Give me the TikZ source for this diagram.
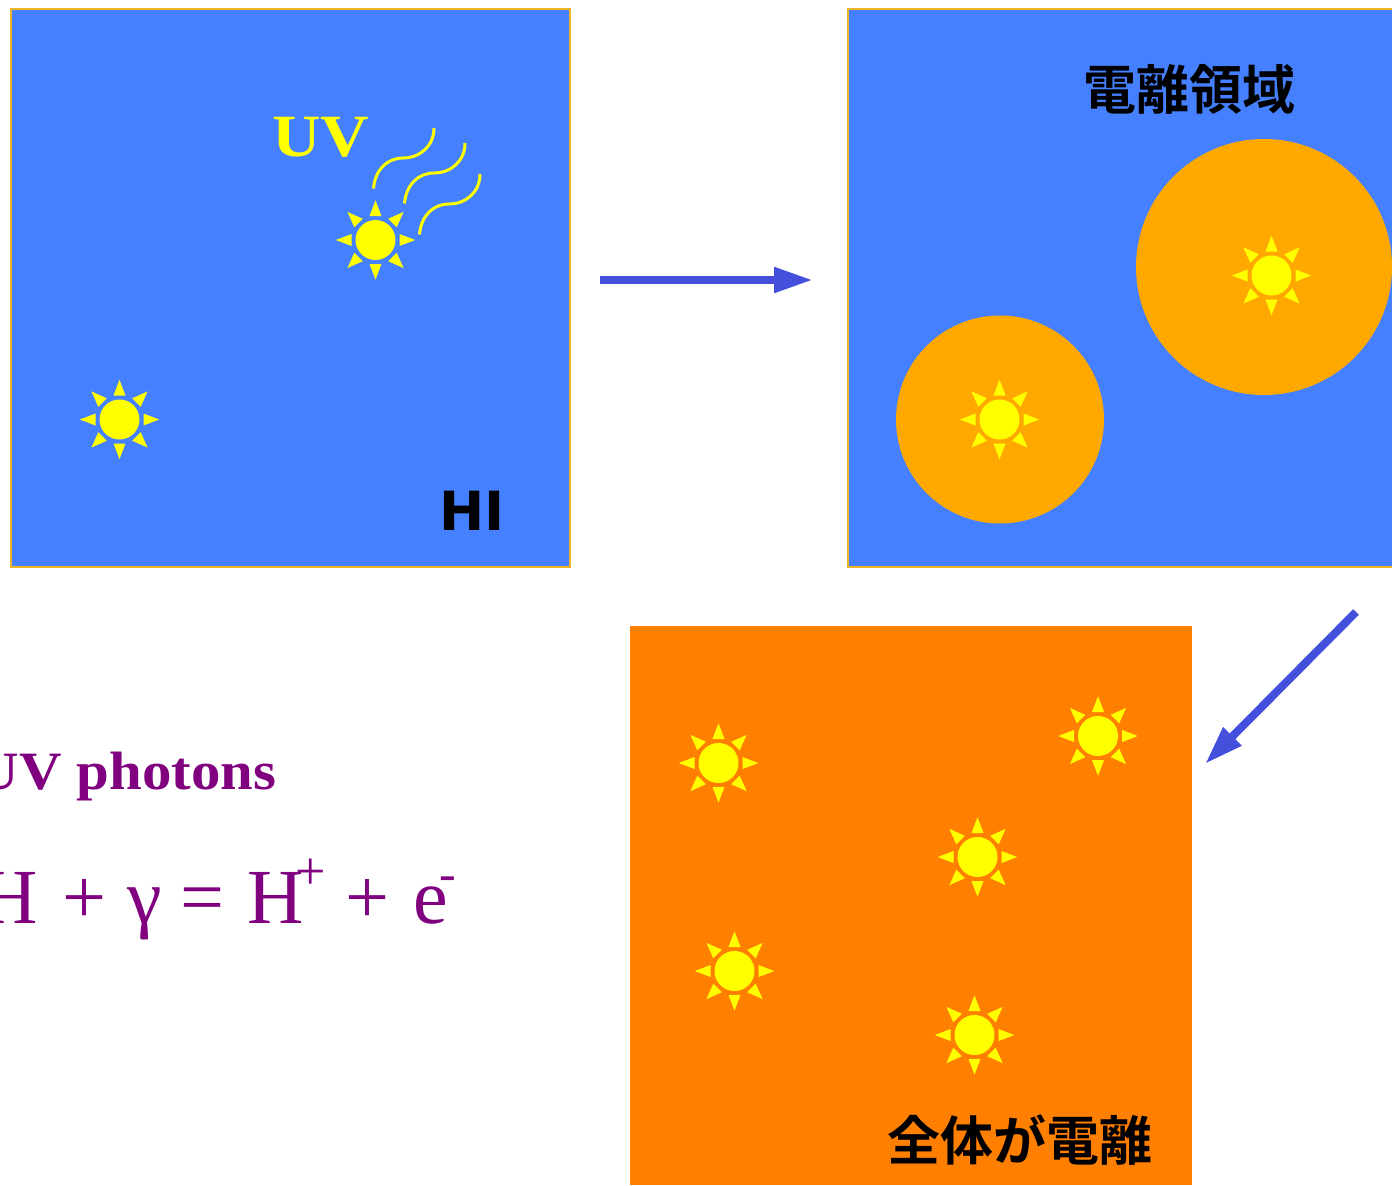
\documentclass[tikz,border=0pt]{standalone}
\usepackage{fontspec}
\setmainfont{Liberation Serif}
\newfontfamily\jpfont{Noto Sans CJK JP}[BoldFont={Noto Sans CJK JP Bold}]
\newfontfamily\hifont{DejaVu Sans}
\usetikzlibrary{arrows.meta}
\definecolor{skyb}{HTML}{4480FF}
\definecolor{edgeo}{HTML}{F0B428}
\definecolor{ionor}{HTML}{FFA800}
\definecolor{fullor}{HTML}{FF7F00}
\definecolor{sunyl}{HTML}{FFFF00}
\definecolor{arrowb}{HTML}{4450DC}
\definecolor{purp}{HTML}{800080}
\tikzset{
  x=1bp,y=-1bp,
  panel/.style={draw=edgeo,line width=2bp,fill=skyb},
  bigarrow/.style={draw=arrowb,line width=8bp,-{Triangle[length=39bp,width=24bp,fill=arrowb]}},
  wave/.style={draw=sunyl,line width=3bp,line cap=butt},
  lab/.style={inner sep=0pt,outer sep=0pt},
  pics/sunicon/.style={code={
    \fill[sunyl] (0,0) circle[radius=20];
    \foreach \a in {0,45,...,315}{
      \fill[#1,rotate=\a] (24,-6) -- (39.7,0) -- (24,6) -- cycle;
    }
  }},
  pics/sunicon/.default=sunyl
}
\newcommand{\fsz}[1]{\fontsize{#1bp}{#1bp}\selectfont}
\begin{document}
\begin{tikzpicture}
\useasboundingbox (0,0) rectangle (1392,1185);
\clip (0,0) rectangle (1392,1185);
\fill[white] (0,0) rectangle (1392,1185);
% panels
\draw[panel] (10.5,8.5) rectangle (570,566.5);
\draw[panel] (848,8.5) rectangle (1400,567);
\fill[fullor] (630,626) rectangle (1192,1185);
% ionised regions
\fill[ionor] (1264,267) circle[radius=128];
\fill[ionor] (1000,419.5) circle[radius=104];
% suns
\pic at (375.5,240) {sunicon};
\pic at (119.5,419.5) {sunicon};
\pic at (1271.5,275.5) {sunicon={sunyl}};
\pic at (999.5,419.5) {sunicon={sunyl}};
\pic at (718.5,763) {sunicon};
\pic at (1098,736) {sunicon};
\pic at (977.5,857) {sunicon};
\pic at (734.5,971) {sunicon};
\pic at (974.5,1035) {sunicon};
% waves
\foreach \dx/\dy in {0/0,31/15,46/46}{
  \draw[wave,shift={(\dx,\dy)}] (373.5,188.5) .. controls (375,170) and (387,158) .. (403,158)
     .. controls (420,158) and (434,146) .. (434,128);
}
% arrows
\coordinate (a1s) at (600,280);
\coordinate (a1e) at (813,280);
\coordinate (a2s) at (1356,612);
\coordinate (a2e) at (1205,764);
\draw[bigarrow] (a1s) -- (a1e);
\draw[bigarrow] (a2s) -- (a2e);
% labels
\node[lab,anchor=base west,text=sunyl,xscale=1.12] (uv) at (272,156.5) {\fsz{60}\bfseries UV};
\node[lab,anchor=base west] (hi) at (439,530) {\hifont\fsz{54}\bfseries HI};
\node[lab,anchor=base west] (ion) at (1083,109) {\jpfont\fsz{53}\bfseries 電離領域};
\node[lab,anchor=base west] (all) at (887,1160) {\jpfont\fsz{53}\bfseries 全体が電離};
\node[lab,anchor=base west,text=purp,xscale=1.09] (ph) at (-23,789) {\fsz{54}\bfseries UV photons};
\node[lab,anchor=base west,text=purp] (eq) at (-18,923) {\fsz{78}\spaceskip=24bp H + \kern-3bp γ \kern-5bp= \kern-1bp H\rlap{\kern-9bp\raisebox{34bp}{\fsz{54}+}}\kern17bp{} + e\rlap{\kern-8bp\raisebox{33bp}{\fsz{50}-}}};
\end{tikzpicture}
\end{document}
